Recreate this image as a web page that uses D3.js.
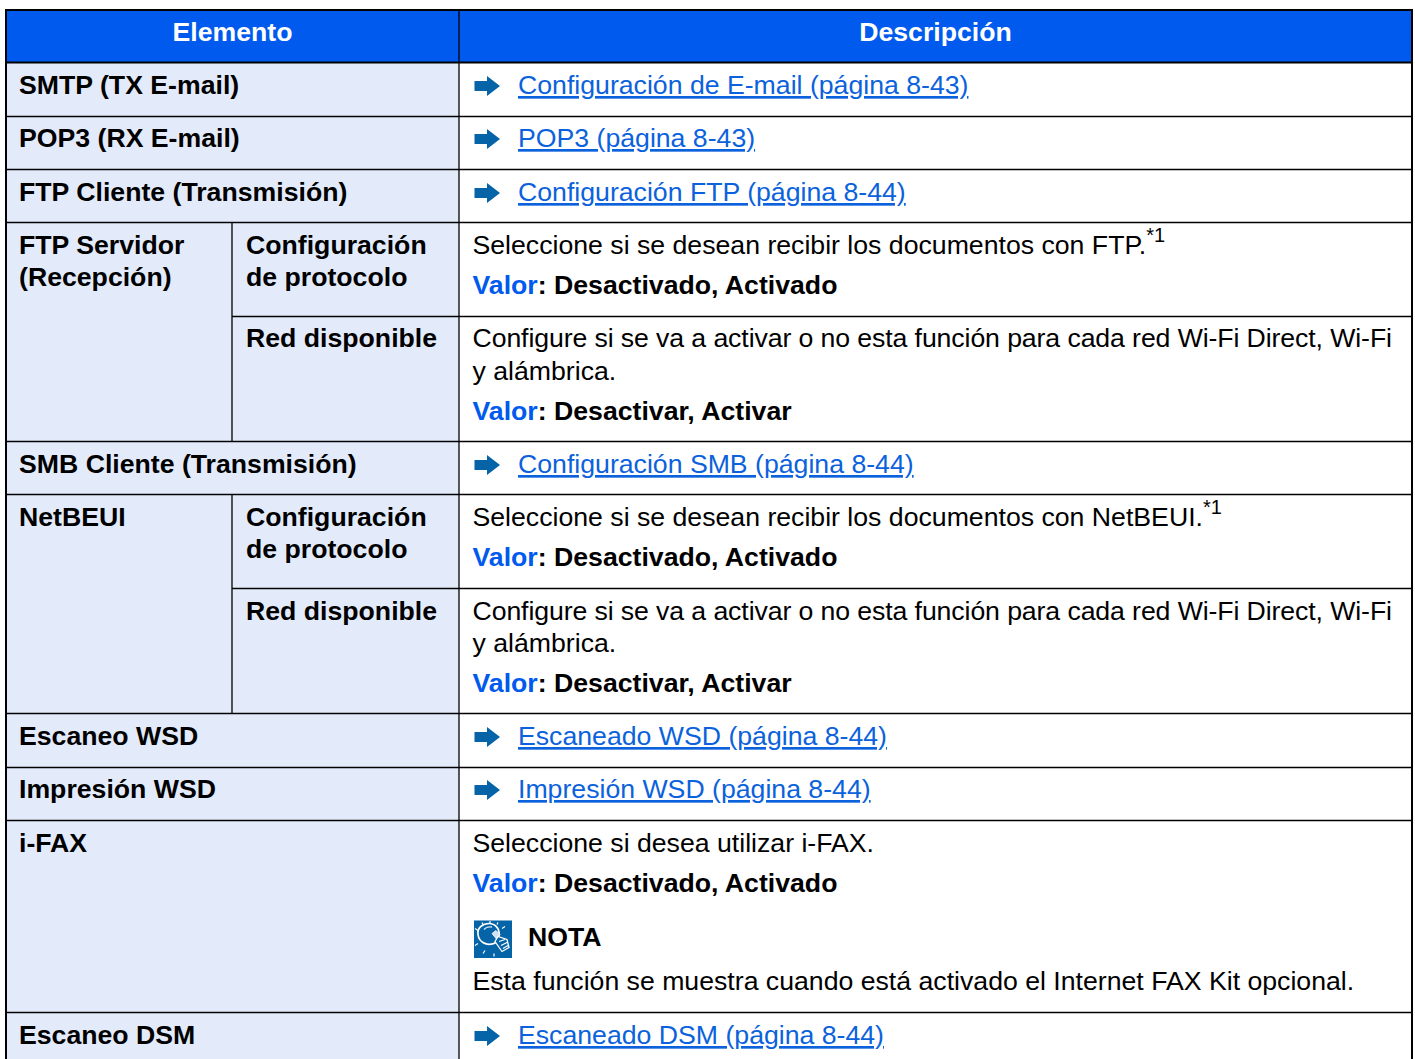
<!DOCTYPE html>
<html>
<head>
<meta charset="utf-8">
<script src="https://cdnjs.cloudflare.com/ajax/libs/d3/7.8.5/d3.min.js"></script>
<style>
html, body { margin: 0; padding: 0; background: #fff; overflow: hidden; }
svg { display: block; font-family: "Liberation Sans", Arial, sans-serif; font-size: 26.67px; }
</style>
</head>
<body>
<div id="chart"></div>
<script>
var headers = ["Elemento", "Descripción"];
var rowIds = ["smtp", "pop3", "ftpc", "ftpsProt", "ftpsRed", "smb", "netProt", "netRed", "scan", "print", "ifax", "dsm"];

// first column, rows spanning the whole label column
var wideLabels = [
  ["smtp", "SMTP (TX E-mail)"],
  ["pop3", "POP3 (RX E-mail)"],
  ["ftpc", "FTP Cliente (Transmisión)"],
  ["smb", "SMB Cliente (Transmisión)"],
  ["scan", "Escaneo WSD"],
  ["print", "Impresión WSD"],
  ["ifax", "i-FAX"],
  ["dsm", "Escaneo DSM"]
];
var groupLabels = [
  ["ftpsProt", ["FTP Servidor", "(Recepción)"]],
  ["netProt", ["NetBEUI"]]
];
var subLabels = [
  ["ftpsProt", ["Configuración", "de protocolo"]],
  ["ftpsRed", ["Red disponible"]],
  ["netProt", ["Configuración", "de protocolo"]],
  ["netRed", ["Red disponible"]]
];
var links = [
  ["smtp", "Configuración de E-mail (página 8-43)"],
  ["pop3", "POP3 (página 8-43)"],
  ["ftpc", "Configuración FTP (página 8-44)"],
  ["smb", "Configuración SMB (página 8-44)"],
  ["scan", "Escaneado WSD (página 8-44)"],
  ["print", "Impresión WSD (página 8-44)"],
  ["dsm", "Escaneado DSM (página 8-44)"]
];
var descriptions = [
  ["ftpsProt", ["Seleccione si se desean recibir los documentos con FTP."], "*1"],
  ["ftpsRed", ["Configure si se va a activar o no esta función para cada red Wi-Fi Direct, Wi-Fi", "y alámbrica."]],
  ["netProt", ["Seleccione si se desean recibir los documentos con NetBEUI."], "*1"],
  ["netRed", ["Configure si se va a activar o no esta función para cada red Wi-Fi Direct, Wi-Fi", "y alámbrica."]],
  ["ifax", ["Seleccione si desea utilizar i-FAX."]]
];
var values = [
  ["ftpsProt", "Desactivado, Activado"],
  ["ftpsRed", "Desactivar, Activar"],
  ["netProt", "Desactivado, Activado"],
  ["netRed", "Desactivar, Activar"],
  ["ifax", "Desactivado, Activado"]
];
var noteTitle = "NOTA";
var noteText = "Esta función se muestra cuando está activado el Internet FAX Kit opcional.";

var width = 1415, height = 1059;
var blue = "#005aee", cellBg = "#e3ebfb", linkCol = "#0b62dc", arrowCol = "#0563a8";

// row tops and first baselines measured from the page
var rowY = d3.scaleOrdinal().domain(rowIds)
  .range([63, 116, 169, 222, 316, 441, 494, 588, 713, 767, 820, 1012]);
var textY = d3.scaleOrdinal().domain(rowIds)
  .range([94, 147, 201, 254, 347, 473, 526, 620, 745, 798, 852, 1044]);
var colX = d3.scaleOrdinal().domain(["left", "sub", "desc", "right"])
  .range([6, 232, 459, 1412]);

// line step differs by a pixel in the first "Red disponible" row
function lineStep(id) { return id == "ftpsRed" ? 33 : 32; }

var svg = d3.select("#chart").append("svg")
  .attr("width", width)
  .attr("height", height);

// backgrounds
svg.append("rect").attr("x", colX("left")).attr("y", 10)
  .attr("width", colX("right") - colX("left")).attr("height", 53)
  .attr("fill", blue);
svg.append("rect").attr("x", colX("left")).attr("y", 63)
  .attr("width", colX("desc") - colX("left")).attr("height", height - 63)
  .attr("fill", cellBg);

// header
svg.selectAll(".head").data(headers).enter().append("text")
  .attr("x", function(d, i) { return i == 0 ? (colX("left") + colX("desc")) / 2 : (colX("desc") + colX("right")) / 2; })
  .attr("y", 41)
  .attr("text-anchor", "middle")
  .attr("font-weight", "bold")
  .attr("fill", "#fff")
  .text(function(d) { return d; });

// grid lines
function rule(x1, x2, y1, y2, w) {
  svg.append("line")
    .attr("x1", x1).attr("x2", x2).attr("y1", y1).attr("y2", y2)
    .attr("stroke", "#000").attr("stroke-width", w);
}
rowIds.forEach(function(id) {
  var partial = id == "ftpsRed" || id == "netRed";
  if (id == "smtp") return;
  rule(partial ? colX("sub") : colX("left"), colX("right"), rowY(id) + 0.5, rowY(id) + 0.5, 1.3);
});
rule(colX("desc"), colX("desc"), 10, height, 1.3);
rule(colX("sub"), colX("sub"), rowY("ftpsProt"), rowY("smb"), 1.3);
rule(colX("sub"), colX("sub"), rowY("netProt"), rowY("scan"), 1.3);
rule(colX("left"), colX("right"), 62.5, 62.5, 2);
rule(colX("left") - 1, colX("right") + 1, 10, 10, 2);
rule(colX("left"), colX("left"), 10, height, 2);
rule(colX("right"), colX("right"), 10, height, 2);

// labels
function bold(x, lines, id) {
  lines.forEach(function(t, i) {
    svg.append("text").attr("x", x).attr("y", textY(id) + i * 32)
      .attr("font-weight", "bold").attr("fill", "#000").text(t);
  });
}
wideLabels.forEach(function(d) { bold(19, [d[1]], d[0]); });
groupLabels.forEach(function(d) { bold(19, d[1], d[0]); });
subLabels.forEach(function(d) { bold(246, d[1], d[0]); });

// links with arrows
var links_g = svg.selectAll(".link").data(links).enter().append("g")
  .attr("transform", function(d) { return "translate(0," + textY(d[0]) + ")"; });
links_g.append("path")
  .attr("d", "M474.5,-13H487V-18L500,-8L487,2V-3H474.5Z")
  .attr("fill", arrowCol);
links_g.append("text")
  .attr("x", 518).attr("y", 0)
  .attr("fill", linkCol)
  .style("text-decoration", "underline")
  .style("text-decoration-skip-ink", "none")
  .text(function(d) { return d[1]; });

// description text
descriptions.forEach(function(d) {
  d[1].forEach(function(t, i) {
    var txt = svg.append("text").attr("x", 472.5).attr("y", textY(d[0]) + i * lineStep(d[0]))
      .attr("fill", "#000").text(t);
    // the long line is set a bit tighter in the page
    if (t.length > 60) txt.style("letter-spacing", "-0.1px");
    if (d[2]) {
      txt.append("tspan").attr("dy", -12).attr("font-size", 20).text(d[2]);
    }
  });
});
var descLines = {};
descriptions.forEach(function(d) { descLines[d[0]] = d[1].length; });
values.forEach(function(d) {
  var txt = svg.append("text").attr("x", 472.5)
    .attr("y", textY(d[0]) + (descLines[d[0]] - 1) * lineStep(d[0]) + 40)
    .attr("font-weight", "bold").attr("fill", "#000");
  txt.append("tspan").attr("fill", blue).text("Valor");
  txt.append("tspan").text(": " + d[1]);
});

// note icon
var note = svg.append("g").attr("transform", "translate(474," + (rowY("ifax") + 100.5) + ")");
note.append("rect").attr("width", 38).attr("height", 37.5).attr("fill", arrowCol);
note.append("path")
  .attr("d", "M22,22C15,26 5,23 4,14C3,7 9,3 15,3C21,3 26,8 25,15Z")
  .attr("fill", arrowCol).attr("stroke", "#fff").attr("stroke-width", 1.7);
note.append("path")
  .attr("d", "M10,9C12,6.5 15,6 18,6.5")
  .attr("fill", "none").attr("stroke", "#cfe0ee").attr("stroke-width", 1.3);
note.append("path")
  .attr("d", "M18,13L22,10L26,14L22,18Z")
  .attr("fill", "#cfe0ee").attr("stroke", "#fff").attr("stroke-width", 0.8);
note.append("path")
  .attr("d", "M24,16L21,21L28,31L35,27L33,19Z")
  .attr("fill", arrowCol).attr("stroke", "#fff").attr("stroke-width", 1.3);
note.append("path")
  .attr("d", "M25,21L31,19M27,25L33,22M29,28L34,25")
  .attr("stroke", "#fff").attr("stroke-width", 1.2);
note.append("path")
  .attr("d", "M1,8L4,10M8,2L9,4M16,0.5L16,2.5M24,2L23,4M31,6L28,8M1,25L4,23M9,33L11,30M20,36L20,33")
  .attr("stroke", "#fff").attr("stroke-width", 1.2);

svg.append("text").attr("x", 528).attr("y", textY("ifax") + 94)
  .attr("font-weight", "bold").attr("fill", "#000").text(noteTitle);
svg.append("text").attr("x", 472.5).attr("y", textY("ifax") + 138)
  .attr("fill", "#000").text(noteText);
</script>
</body>
</html>
